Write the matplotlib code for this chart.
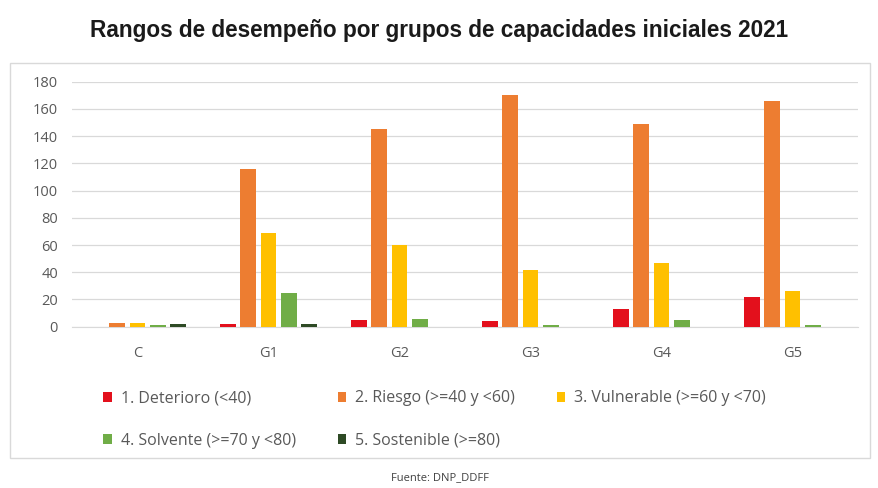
import matplotlib
matplotlib.use("Agg")
import matplotlib.pyplot as plt
from matplotlib.patches import Rectangle
import numpy as np

categories = ["C", "G1", "G2", "G3", "G4", "G5"]
series_names = ["1. Deterioro (<40)", "2. Riesgo (>=40 y <60)", "3. Vulnerable (>=60 y <70)",
                "4. Solvente (>=70 y <80)", "5. Sostenible (>=80)"]
deterioro = [0, 2, 5, 4, 13, 22]
riesgo = [3, 116, 145, 170, 149, 166]
vulnerable = [3, 69, 60, 42, 47, 26]
solvente = [1, 25, 6, 1, 5, 1]
sostenible = [2, 2, 0, 0, 0, 0]
colors = ["#E3101C", "#ED7D31", "#FFC000", "#70AD47", "#2E4A25"]

values = [deterioro, riesgo, vulnerable, solvente, sostenible]

W, H = 879, 488
fig = plt.figure(figsize=(W / 100, H / 100), dpi=100)
fig.patch.set_facecolor("white")

# outer frame
fig.add_artist(Rectangle((10 / W, 1 - 458 / H), 860 / W, 395 / H, transform=fig.transFigure,
                         fill=False, edgecolor="#D9D9D9", linewidth=1.0))

ax = fig.add_axes([72 / W, 1 - 326.7 / H, 786 / W, (326.7 - 81.7) / H])
x = np.arange(len(categories))
pitch = 0.153
bw = 0.122
handles = []
for i, (vals, c, name) in enumerate(zip(values, colors, series_names)):
    b = ax.bar(x + (i - 2) * pitch, vals, width=bw, color=c, label=name, zorder=3)
    handles.append(b)

ax.set_xlim(-0.5, len(categories) - 0.5)
ax.set_ylim(0, 180)
ax.set_yticks(range(0, 181, 20))
ax.set_xticks(x)
ax.set_xticklabels(categories)
ax.grid(axis="y", color="#D9D9D9", linewidth=0.9, zorder=0)
for s in ["top", "right", "left"]:
    ax.spines[s].set_visible(False)
ax.spines["bottom"].set_color("#D9D9D9")
ax.tick_params(axis="both", length=0, colors="#595959", labelsize=10.5)
ax.tick_params(axis="x", pad=14)
ax.tick_params(axis="y", pad=10)
for lab in ax.get_xticklabels() + ax.get_yticklabels():
    lab.set_fontfamily("Open Sans")

fig.text(0.5, 1 - 30 / H, "Rangos de desempeño por grupos de capacidades iniciales 2021",
         ha="center", va="center", fontsize=16.3, fontweight="bold", family="Liberation Sans",
         color="#1A1A1A")

order = [0, 3, 1, 4, 2]
leg = fig.legend(handles=[handles[k] for k in order], labels=[series_names[k] for k in order],
                 loc="upper left", bbox_to_anchor=(89 / W, 1 - 376 / H), ncol=3, frameon=False,
                 prop={"family": "Open Sans", "size": 11.5},
                 handlelength=0.55, handleheight=0.55, handletextpad=0.55,
                 columnspacing=2.6, labelspacing=1.65)
for t in leg.get_texts():
    t.set_color("#595959")

fig.text(0.5, 1 - 478 / H, "Fuente: DNP_DDFF", ha="center", va="center", fontsize=8,
         family="Open Sans", color="#404040")

fig.savefig("out.png", dpi=100, facecolor="white")
